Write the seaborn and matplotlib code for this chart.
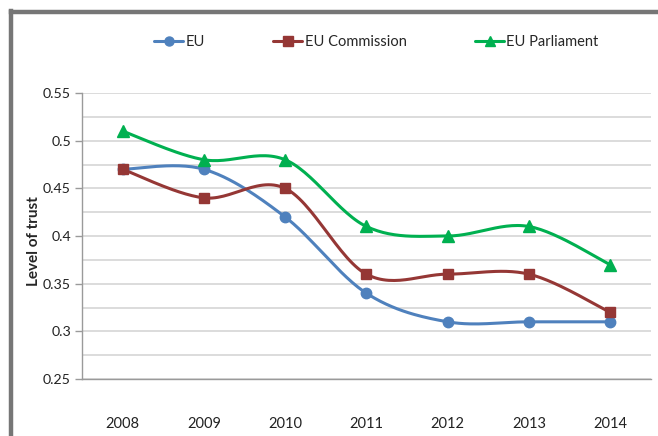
import numpy as np
import matplotlib
matplotlib.use("Agg")
import matplotlib.pyplot as plt
from matplotlib.lines import Line2D
import seaborn as sns

# Data
years = ["2008", "2009", "2010", "2011", "2012", "2013", "2014"]
eu = [0.47, 0.47, 0.42, 0.34, 0.31, 0.31, 0.31]
eu_commission = [0.47, 0.44, 0.45, 0.36, 0.36, 0.36, 0.32]
eu_parliament = [0.51, 0.48, 0.48, 0.41, 0.40, 0.41, 0.37]

series = [
    ("EU", eu, "#4F81BD", "o", 7.5),
    ("EU Commission", eu_commission, "#953735", "s", 7.5),
    ("EU Parliament", eu_parliament, "#00B050", "^", 8),
]


def smooth(xs, ys, n=30):
    # Excel-style smoothed line (cubic bezier, catmull-rom control points)
    pts = np.column_stack([xs, ys]).astype(float)
    out = []
    for i in range(len(pts) - 1):
        p0, p3 = pts[i], pts[i + 1]
        prev = pts[i - 1] if i > 0 else pts[i]
        nxt = pts[i + 2] if i + 2 < len(pts) else pts[i + 1]
        c1 = p0 + (p3 - prev) / 6
        c2 = p3 - (nxt - p0) / 6
        t = np.linspace(0, 1, n)[:, None]
        seg = ((1 - t) ** 3) * p0 + 3 * ((1 - t) ** 2) * t * c1 + 3 * (1 - t) * t ** 2 * c2 + t ** 3 * p3
        out.append(seg if i == 0 else seg[1:])
    out = np.vstack(out)
    return out[:, 0], out[:, 1]


sns.set_style("white")
plt.rcParams["font.family"] = ["Lato", "DejaVu Sans"]

fig = plt.figure(figsize=(6.58, 4.36), dpi=100)
ax = fig.add_axes([0.1246, 0.1307, 0.8644, 0.656])

x = np.arange(len(years))
handles = []
for name, vals, color, marker, ms in series:
    sx, sy = smooth(x, vals)
    sns.lineplot(x=sx, y=sy, sort=False, color=color, linewidth=2.2, ax=ax, zorder=3)
    ax.plot(x, vals, linestyle="none", marker=marker, markersize=ms, color=color, zorder=4)
    handles.append(Line2D([0], [0], color=color, linewidth=2.2, marker=marker, markersize=ms - 1, label=name))

ax.set_xlim(-0.5, len(years) - 0.5)
ax.set_ylim(0.25, 0.55)
ax.set_xticks(x)
ax.set_xticklabels(years, fontsize=10.5, color="#222222")
ax.set_xticks(np.arange(len(years) + 1) - 0.5, minor=True)
ax.tick_params(axis="x", which="major", length=0, pad=27)
ax.tick_params(axis="x", which="minor", length=5, width=1, color="#9a9a9a", direction="out")
ax.set_yticks(np.arange(0.25, 0.5501, 0.05))
ax.set_yticklabels(["0.25", "0.3", "0.35", "0.4", "0.45", "0.5", "0.55"], fontsize=10.2, color="#222222")
ax.set_yticks(np.arange(0.275, 0.55, 0.05), minor=True)
ax.tick_params(axis="y", which="major", length=5, width=1, color="#9a9a9a", direction="out", left=True, pad=3)
ax.tick_params(axis="y", which="minor", length=0)
ax.grid(True, axis="y", which="both", color="#d9d9d9", linewidth=1.3)
ax.set_axisbelow(True)

for side in ["top", "right"]:
    ax.spines[side].set_visible(False)
for side in ["left", "bottom"]:
    ax.spines[side].set_color("#9a9a9a")
    ax.spines[side].set_linewidth(1)

ax.set_ylabel("Level of trust", fontsize=11, fontweight="bold")
ax.yaxis.set_label_coords(-0.072, 0.481)

fig.legend(handles=handles, loc="center", bbox_to_anchor=(0.572, 0.904), ncol=3,
           frameon=False, fontsize=10.5, handlelength=2.0, columnspacing=4.7, handletextpad=0.15)

# gray frame around the chart
fig.add_artist(Line2D([11 / 658, 11 / 658], [0, 1 - 11 / 436], color="#767676", linewidth=3.2,
                      transform=fig.transFigure, solid_capstyle="projecting"))
fig.add_artist(Line2D([11 / 658, 1], [1 - 12.5 / 436, 1 - 12.5 / 436], color="#767676", linewidth=3.2,
                      transform=fig.transFigure, solid_capstyle="projecting"))

fig.savefig("out.png", dpi=100)
